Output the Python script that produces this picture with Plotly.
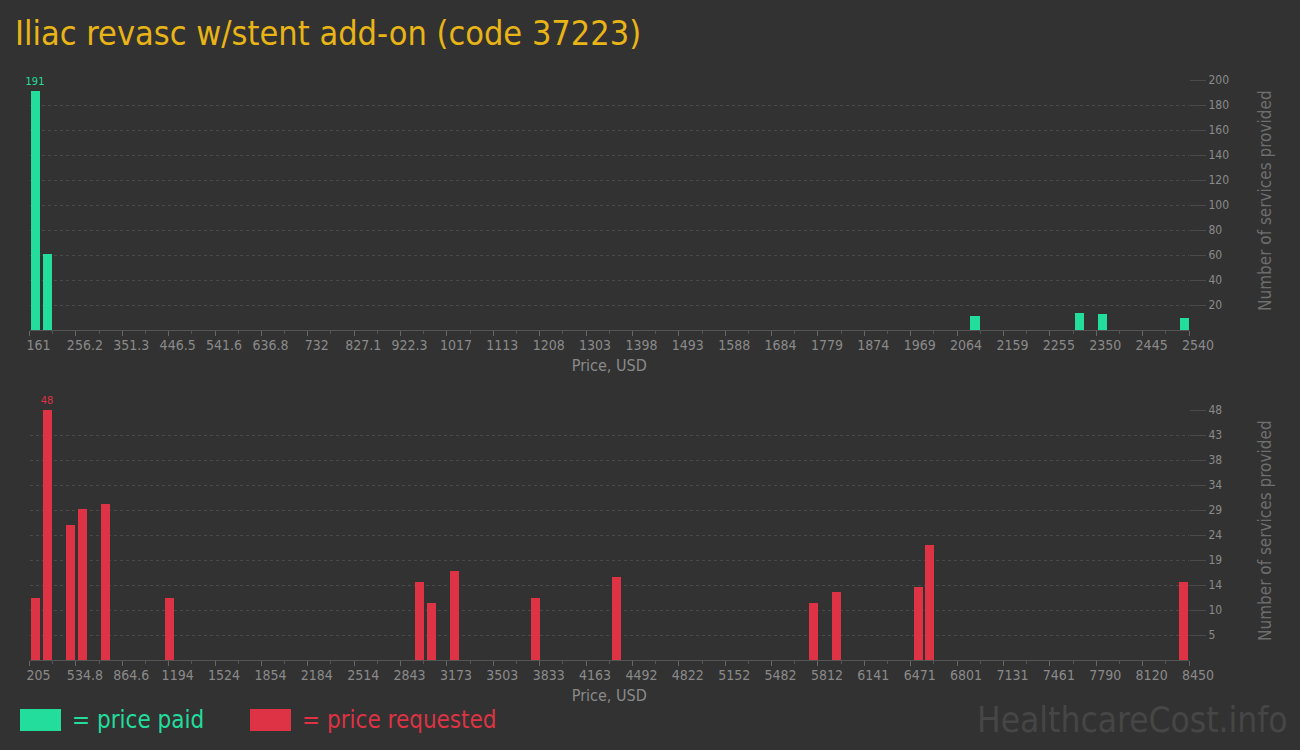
import plotly.graph_objects as go

# ---------------- data ----------------
title_text = "Iliac revasc w/stent add-on (code 37223)"

# Price paid histogram (bin centres in USD, counts)
paid_bin_start = 161
paid_bin_end = 2540
paid_prices = [172.9, 196.7, 2099.9, 2314.0, 2361.6, 2529.3]
paid_counts = [191, 61, 11, 14, 13, 10]
paid_tick_labels = ["161", "256.2", "351.3", "446.5", "541.6", "636.8", "732", "827.1",
                    "922.3", "1017", "1113", "1208", "1303", "1398", "1493", "1588",
                    "1684", "1779", "1874", "1969", "2064", "2159", "2255", "2350",
                    "2445", "2540"]
paid_y_ticks = [20, 40, 60, 80, 100, 120, 140, 160, 180, 200]

# Price requested histogram
req_bin_start = 205
req_bin_end = 8450
req_prices = [246.2, 328.7, 493.6, 576.0, 740.9, 1193.9, 2976.6, 3059.0, 3223.9,
              3801.1, 4378.2, 5778.3, 5943.2, 6520.4, 6602.8, 8408.8]
req_counts = [12, 48, 26, 29, 30, 12, 15, 11, 17, 12, 16, 11, 13, 14, 22, 15]
req_tick_labels = ["205", "534.8", "864.6", "1194", "1524", "1854", "2184", "2514",
                   "2843", "3173", "3503", "3833", "4163", "4492", "4822", "5152",
                   "5482", "5812", "6141", "6471", "6801", "7131", "7461", "7790",
                   "8120", "8450"]
req_y_ticks = [4.8, 9.6, 14.4, 19.2, 24, 28.8, 33.6, 38.4, 43.2, 48]
req_y_labels = ["5", "10", "14", "19", "24", "29", "34", "38", "43", "48"]

# ---------------- style ----------------
BG = "#323232"
GREEN = "#22dd9c"
RED = "#dd3344"
GOLD = "#e8b416"
GRAY = "#8a8a8a"
GRID = "#4a4a4a"
FONT = "DejaVu Sans Condensed, Roboto, sans-serif"

n_bins = 100
paid_step = (paid_bin_end - paid_bin_start) / 25
req_step = (req_bin_end - req_bin_start) / 25
paid_bw = (paid_bin_end - paid_bin_start) / n_bins
req_bw = (req_bin_end - req_bin_start) / n_bins

paid_tickvals = [paid_bin_start + i * paid_step for i in range(26)]
req_tickvals = [req_bin_start + i * req_step for i in range(26)]

pmax = max(paid_counts)
rmax = max(req_counts)

fig = go.Figure()
fig.add_trace(go.Bar(
    x=paid_prices, y=paid_counts, width=paid_bw * 0.78,
    marker=dict(color=GREEN, line=dict(width=0)),
    text=[str(v) if v == pmax else "" for v in paid_counts],
    textposition="outside", constraintext="none",
    textfont=dict(color=GREEN, size=11, family=FONT),
    cliponaxis=False, xaxis="x", yaxis="y", hoverinfo="x+y", showlegend=False))
fig.add_trace(go.Bar(
    x=req_prices, y=req_counts, width=req_bw * 0.78,
    marker=dict(color=RED, line=dict(width=0)),
    text=[str(v) if v == rmax else "" for v in req_counts],
    textposition="outside", constraintext="none",
    textfont=dict(color=RED, size=11, family=FONT),
    cliponaxis=False, xaxis="x2", yaxis="y2", hoverinfo="x+y", showlegend=False))

xdom = [29.5 / 1300, 1189 / 1300]
xcommon = dict(
    domain=xdom, showgrid=False, zeroline=False, automargin=False,
    showline=True, linecolor="#555555", linewidth=1,
    ticks="outside", ticklen=5, tickcolor="#666666",
    tickfont=dict(family=FONT, size=14, color=GRAY),
    ticklabelshift=9, ticklabelstandoff=-3,
    title=dict(text="Price, USD", font=dict(family=FONT, size=16, color=GRAY), standoff=8),
)
ycommon = dict(
    side="right", showgrid=True, gridcolor=GRID, griddash="3px,3px", gridwidth=1,
    zeroline=False, showline=False, automargin=False,
    ticks="outside", ticklen=16, tickcolor=GRID,
    tickfont=dict(family=FONT, size=12, color=GRAY),
)

fig.update_layout(
    width=1300, height=750, autosize=False,
    paper_bgcolor=BG, plot_bgcolor=BG,
    margin=dict(l=0, r=0, t=0, b=0, autoexpand=False),
    bargap=0,
    font=dict(family=FONT, color=GRAY),
    title=dict(text=title_text, x=15 / 1300, xanchor="left", y=1 - 33 / 750, yanchor="middle",
               font=dict(family=FONT, size=34, color=GOLD)),
    xaxis=dict(xcommon, anchor="y", range=[paid_bin_start, paid_bin_end],
               tickvals=paid_tickvals, ticktext=paid_tick_labels,
               minor=dict(dtick=paid_step / 2, tick0=paid_bin_start, ticks="outside",
                          ticklen=3, tickcolor="#555555")),
    yaxis=dict(ycommon, anchor="x", domain=[1 - 330 / 750, 1 - 80 / 750], range=[0, 200],
               tickvals=paid_y_ticks, ticktext=[str(v) for v in paid_y_ticks]),
    xaxis2=dict(xcommon, anchor="y2", range=[req_bin_start, req_bin_end],
                tickvals=req_tickvals, ticktext=req_tick_labels,
                minor=dict(dtick=req_step / 2, tick0=req_bin_start, ticks="outside",
                           ticklen=3, tickcolor="#555555")),
    yaxis2=dict(ycommon, anchor="x2", domain=[1 - 660 / 750, 1 - 410 / 750], range=[0, 48],
                tickvals=req_y_ticks, ticktext=req_y_labels),
)

# y-axis titles
for yc in (201, 531):
    fig.add_annotation(text="Number of services provided", xref="paper", yref="paper",
                       x=1265 / 1300, y=1 - yc / 750, textangle=-90, showarrow=False,
                       font=dict(family=FONT, size=17, color="#6e6e6e"),
                       xanchor="center", yanchor="middle")

# legend
fig.add_shape(type="rect", xref="paper", yref="paper",
              x0=20 / 1300, x1=61 / 1300, y0=1 - 731 / 750, y1=1 - 709 / 750,
              fillcolor=GREEN, line=dict(width=0))
fig.add_annotation(text="= price paid", xref="paper", yref="paper", x=70 / 1300, y=1 - 720 / 750,
                   xanchor="left", yanchor="middle", showarrow=False,
                   font=dict(family=FONT, size=24, color=GREEN))
fig.add_shape(type="rect", xref="paper", yref="paper",
              x0=250 / 1300, x1=291 / 1300, y0=1 - 731 / 750, y1=1 - 709 / 750,
              fillcolor=RED, line=dict(width=0))
fig.add_annotation(text="= price requested", xref="paper", yref="paper", x=300 / 1300, y=1 - 720 / 750,
                   xanchor="left", yanchor="middle", showarrow=False,
                   font=dict(family=FONT, size=24, color=RED))
fig.add_annotation(text="HealthcareCost.info", xref="paper", yref="paper", x=1290 / 1300, y=1 - 720 / 750,
                   xanchor="right", yanchor="middle", showarrow=False,
                   font=dict(family=FONT, size=35, color="#464646"))

post = ("document.body.style.margin='0';document.body.style.overflow='hidden';"
        "document.body.style.background='#323232';"
        "var gd=document.getElementById('{plot_id}');"
        "gd.style.width='1300px';gd.style.height='750px';"
        "Plotly.relayout(gd,{width:1300,height:750,autosize:false});")
fig.write_html("out.html", post_script=post, config={"displayModeBar": False})
